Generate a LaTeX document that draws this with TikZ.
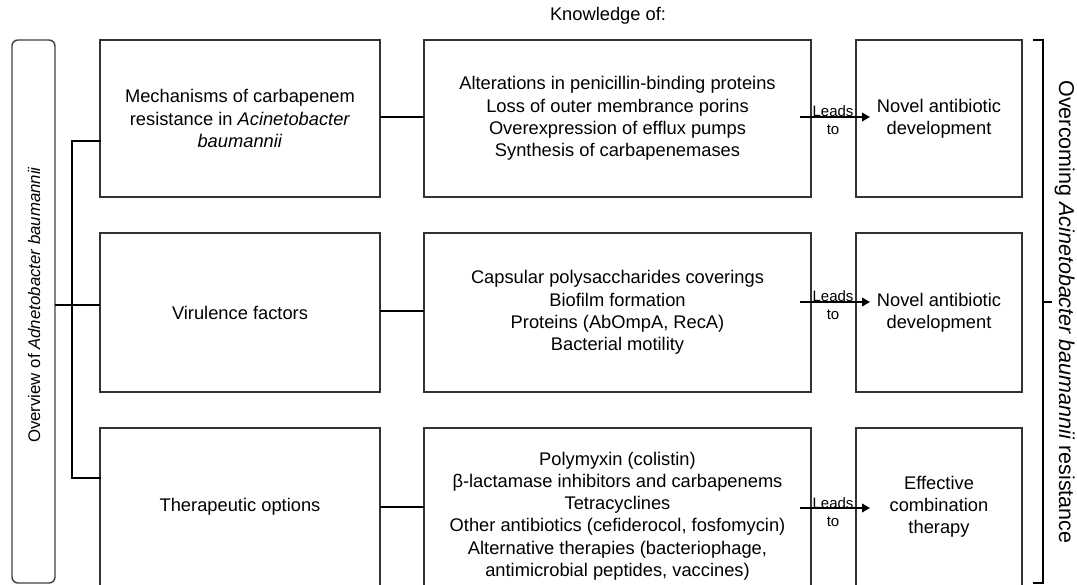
\documentclass[tikz,border=0pt]{standalone}
\usepackage{fontspec}
\setmainfont{Liberation Sans}
\usetikzlibrary{arrows.meta,calc}
\begin{document}
\begin{tikzpicture}[x=1pt,y=-1pt,
  box/.style={draw=black!80, line width=1.4pt, rectangle, inner sep=0pt, outer sep=0pt,
    align=center, font=\fontsize{18.3}{22.2}\selectfont},
  conn/.style={draw=black, line width=2.7pt},
  arr/.style={draw=black, line width=2.7pt, -{Triangle[length=8pt,width=8.5pt]}},
  small/.style={font=\fontsize{15}{18}\selectfont, inner sep=0pt},
  lbl/.style={font=\fontsize{18.3}{22.2}\selectfont, inner sep=0pt}]
\path[use as bounding box] (0,0) rectangle (1077,585);
\clip (0,0) rectangle (1077,585);
% overview box
\node[draw=black!75, line width=1.4pt, rounded corners=6pt, minimum width=43pt,
  minimum height=543pt, inner sep=0pt, outer sep=0pt] (ov) at (33.5,311.5) {};
\node[lbl, rotate=90, font=\fontsize{16.8}{20}\selectfont] (ovt) at (34,305) {Overview of \textit{Adnetobacter baumannii}};
% column 1
\node[box, minimum width=280pt, minimum height=157pt] (m1) at (240,118.5)
  {Mechanisms of carbapenem\\resistance in \textit{Acinetobacter}\\\textit{baumannii}};
\node[box, minimum width=280pt, minimum height=159pt] (m2) at (240,312.5) {Virulence factors};
\node[box, minimum width=280pt, minimum height=158pt] (m3) at (240,507) {Therapeutic options};
% column 2
\node[lbl] (kh) at (608,16) {Knowledge of:};
\node[box, minimum width=387pt, minimum height=157pt] (k1) at (617.5,118.5)
  {Alterations in penicillin-binding proteins\\Loss of outer membrance porins\\Overexpression of efflux pumps\\Synthesis of carbapenemases};
\node[box, minimum width=387pt, minimum height=159pt] (k2) at (617.5,312.5)
  {Capsular polysaccharides coverings\\Biofilm formation\\Proteins (AbOmpA, RecA)\\Bacterial motility};
\node[box, minimum width=387pt, minimum height=176pt] (k3) at (617.5,516)
  {Polymyxin (colistin)\\β-lactamase inhibitors and carbapenems\\Tetracyclines\\Other antibiotics (cefiderocol, fosfomycin)\\Alternative therapies (bacteriophage,\\antimicrobial peptides, vaccines)};
% column 3
\node[box, minimum width=166pt, minimum height=157pt] (n1) at (939,118.5) {Novel antibiotic\\development};
\node[box, minimum width=166pt, minimum height=159pt] (n2) at (939,312.5) {Novel antibiotic\\development};
\node[box, minimum width=166pt, minimum height=158pt] (n3) at (939,507) {Effective\\combination\\therapy};
% left branch
\coordinate (j) at (72,305);
\coordinate (jt) at (72,141);
\coordinate (jb) at (72,478);
\draw[conn] (ov.east |- j) -- (j) -- (m2.west |- j);
\draw[conn, line cap=rect] (m1.west |- jt) -- (jt) -- (jb) -- (m3.west |- jb);
% column 1 to column 2
\draw[conn] (m1.east |- 0,117) -- (k1.west |- 0,117);
\draw[conn] (m2.east |- 0,311) -- (k2.west |- 0,311);
\draw[conn] (m3.east |- 0,507) -- (k3.west |- 0,507);
% leads to arrows
\coordinate (a1s) at (800,117); \coordinate (a1e) at (870,117);
\coordinate (a2s) at (800,302); \coordinate (a2e) at (870,302);
\coordinate (a3s) at (800,508); \coordinate (a3e) at (870,508);
\draw[arr] (a1s) -- (a1e);
\draw[arr] (a2s) -- (a2e);
\draw[arr] (a3s) -- (a3e);
\foreach \a/\y in {1/117,2/302,3/508}{
  \node[small, anchor=base] (l\a) at (833,\y) {Leads};
  \node[small, anchor=base] (t\a) at (833,\y+18) {to};
}
% right bracket
\draw[conn] (1033,40) -- (1043,40) -- (1043,583) -- (1033,583);
\coordinate (bt) at (1043,302);
\draw[conn] (bt) -- ++(9,0);
\node[lbl, rotate=-90, anchor=base, font=\fontsize{21.5}{24}\selectfont] (oc) at (1059,312) {Overcoming \textit{Acinetobacter baumannii} resistance};
\end{tikzpicture}
\end{document}
